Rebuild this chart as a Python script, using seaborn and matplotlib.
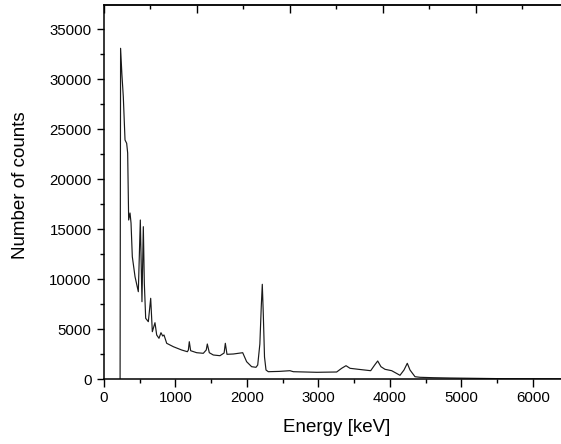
import numpy as np
import pandas as pd
import seaborn as sns
from matplotlib import pyplot as plt
from matplotlib.ticker import MultipleLocator, NullFormatter

# spectrum (energy in keV, counts)
energy = [225, 232, 250, 270, 294, 317, 331, 345, 364, 378, 396, 434, 480, 508,
          531, 550, 564, 583, 620, 653, 676, 713, 737, 769, 797, 821, 839, 877,
          970, 1086, 1166, 1180, 1193, 1212, 1296, 1389, 1430, 1445, 1473, 1529,
          1622, 1680, 1697, 1720, 1809, 1940, 1995, 2065, 2126, 2150, 2180, 2200,
          2214, 2228, 2245, 2266, 2298, 2450, 2601, 2648, 2975, 3254, 3324, 3385,
          3441, 3557, 3730, 3786, 3828, 3874, 3930, 4024, 4140, 4196, 4242, 4280,
          4350, 4420, 4606, 4839, 5165, 5600, 6400]
counts = [0, 33070, 30500, 28230, 23900, 23570, 22600, 15900, 16600, 15600,
          12230, 10230, 8730, 15900, 7730, 15230, 9600, 6070, 5730, 8070, 4730,
          5630, 4400, 4070, 4630, 4300, 4400, 3570, 3230, 2900, 2730, 2900, 3730,
          2830, 2630, 2570, 2900, 3500, 2630, 2400, 2330, 2600, 3570, 2470, 2500,
          2630, 1730, 1230, 1170, 1400, 3500, 7300, 9470, 6500, 2200, 900, 730,
          760, 830, 730, 670, 700, 1070, 1330, 1070, 970, 830, 1400, 1800, 1230,
          970, 830, 370, 900, 1570, 900, 230, 170, 130, 100, 70, 30, 20]

df = pd.DataFrame({"energy": energy, "counts": counts})

sns.set_style("ticks")
plt.rcParams["font.family"] = ["Liberation Sans", "DejaVu Sans"]
plt.rcParams["text.color"] = "black"
plt.rcParams["axes.labelcolor"] = "black"

fig = plt.figure(figsize=(5.61, 4.44), dpi=100)
ax = fig.add_axes([104 / 561, 65 / 444, 457 / 561, 374.3 / 444])

sns.lineplot(data=df, x="energy", y="counts", ax=ax, color="#1a1a1a",
             linewidth=0.85, estimator=None, sort=False)

ax.set_xlim(0, 6392)
ax.set_ylim(0, 37430)
ax.xaxis.set_major_locator(MultipleLocator(1000))
ax.xaxis.set_minor_locator(MultipleLocator(500))
ax.yaxis.set_major_locator(MultipleLocator(5000))
ax.yaxis.set_minor_locator(MultipleLocator(2500))
ax.tick_params(which="major", direction="out", length=5.4, width=1, labelsize=10.8,
               colors="black", pad=3.5)
ax.tick_params(which="minor", direction="out", length=3, width=1, colors="black")
for s in ["left", "bottom", "top"]:
    ax.spines[s].set_linewidth(1.1)
    ax.spines[s].set_color("black")
ax.spines["right"].set_visible(False)

# unlabeled top axis on a different scale
k = 71.5 / 93
top = ax.secondary_xaxis("top", functions=(lambda e: e * k, lambda t: t / k))
top.xaxis.set_major_locator(MultipleLocator(1000))
top.xaxis.set_minor_locator(MultipleLocator(500))
top.xaxis.set_major_formatter(NullFormatter())
top.tick_params(which="major", direction="in", length=5.4, width=1, colors="black")
top.tick_params(which="minor", direction="in", length=3, width=1, colors="black")
top.spines["top"].set_linewidth(1.1)

ax.set_xlabel("Energy [keV]", fontsize=13.5)
ax.set_ylabel("Number of counts", fontsize=13.5)
ax.xaxis.set_label_coords(0.51, -0.108)
ax.yaxis.set_label_coords(-0.164, 0.518)

plt.savefig("out.png", dpi=100)
